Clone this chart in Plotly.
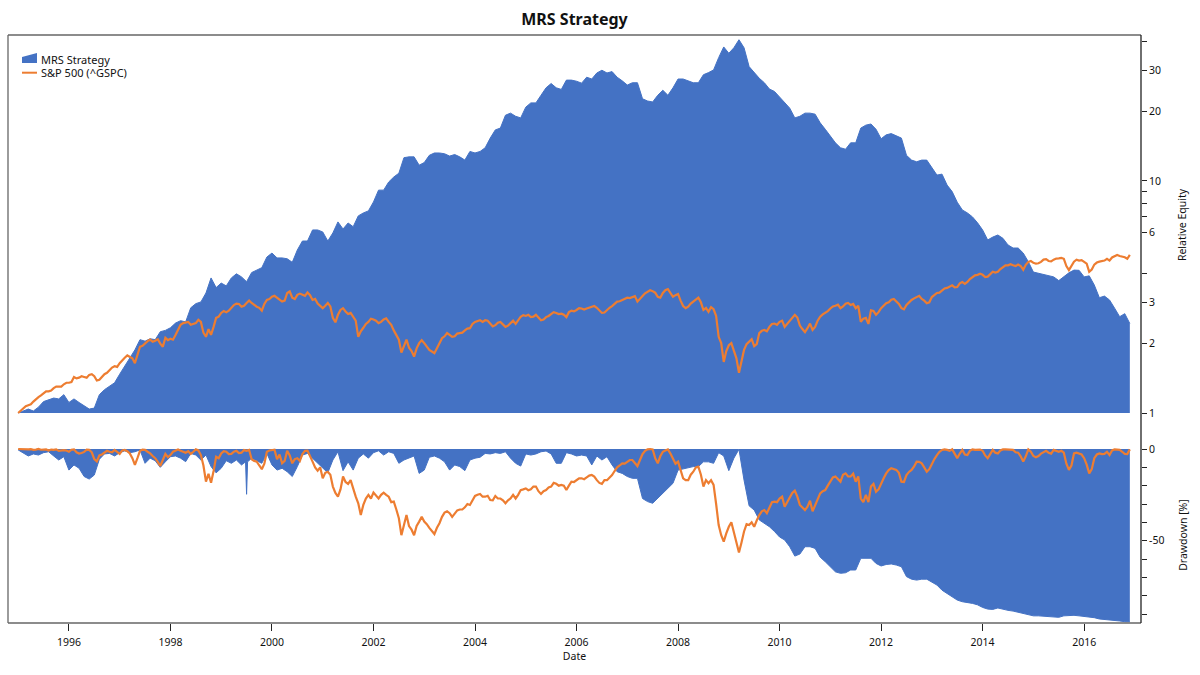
import numpy as np
import plotly.graph_objects as go

dates = np.round(np.arange(1995.0, 2016.95, 0.1), 1)
# the index lines get a second reading halfway between those dates
sp500_dates = np.round(np.arange(1995.0, 2016.925, 0.05), 2)

strategy_equity = [
    1.00, 1.02, 1.04, 1.02, 1.06, 1.12, 1.14, 1.16, 1.15, 1.20,
    1.11, 1.15, 1.11, 1.07, 1.04, 1.05, 1.20, 1.26, 1.30, 1.35,
    1.47, 1.60, 1.73, 1.87, 2.07, 2.04, 2.09, 2.07, 2.24, 2.27,
    2.33, 2.44, 2.50, 2.47, 2.84, 2.96, 3.01, 3.29, 3.82, 3.47,
    3.63, 3.53, 3.82, 3.98, 3.86, 3.68, 4.03, 4.12, 4.23, 4.70,
    4.89, 4.66, 4.66, 4.62, 4.46, 5.04, 5.51, 5.51, 6.15, 6.15,
    6.03, 5.51, 5.97, 6.66, 6.21, 6.59, 6.35, 7.07, 7.28, 7.43,
    8.12, 9.13, 9.13, 9.90, 10.4, 10.8, 12.6, 12.7, 12.7, 11.7,
    12.0, 12.9, 13.2, 13.2, 13.1, 12.8, 13.0, 12.7, 12.3, 13.4,
    13.2, 13.4, 13.9, 15.3, 16.6, 16.9, 19.2, 19.6, 19.0, 18.7,
    20.8, 21.7, 21.7, 23.4, 25.2, 26.3, 25.2, 24.8, 27.2, 27.2,
    26.9, 26.4, 28.0, 27.5, 29.2, 30.0, 29.2, 29.6, 28.0, 27.0,
    25.9, 26.5, 26.5, 22.6, 22.1, 21.9, 23.4, 24.6, 23.4, 25.2,
    27.5, 27.5, 27.0, 26.5, 26.5, 28.7, 29.3, 30.1, 34.0, 37.8,
    35.5, 37.5, 40.6, 37.5, 31.1, 29.3, 27.7, 26.5, 24.9, 24.3,
    23.0, 21.7, 20.6, 18.7, 19.0, 19.6, 19.6, 19.4, 17.8, 16.7,
    15.6, 14.6, 13.9, 13.7, 14.6, 14.6, 16.9, 17.4, 17.6, 16.7,
    15.2, 15.8, 16.0, 15.7, 15.3, 12.9, 12.3, 12.1, 12.3, 12.3,
    11.4, 10.6, 10.7, 9.60, 9.00, 8.10, 7.50, 7.28, 7.00, 6.60,
    6.15, 5.57, 5.73, 5.85, 5.66, 5.30, 5.14, 5.14, 4.89, 4.49,
    4.05, 4.00, 3.96, 3.93, 3.86, 3.72, 3.86, 4.02, 4.13, 4.12,
    3.86, 3.90, 3.56, 3.14, 3.19, 3.07, 2.83, 2.60, 2.68, 2.43,
]

sp500_equity = [
    1.00, 1.05, 1.08, 1.12, 1.17, 1.22, 1.24, 1.28, 1.30, 1.33,
    1.35, 1.43, 1.42, 1.43, 1.46, 1.44, 1.39, 1.47, 1.53, 1.59,
    1.64, 1.73, 1.75, 1.64, 1.93, 2.00, 2.07, 2.05, 1.99, 2.11,
    2.09, 2.17, 2.40, 2.45, 2.40, 2.44, 2.47, 2.13, 2.17, 2.57,
    2.70, 2.72, 2.83, 2.96, 2.87, 2.98, 2.98, 2.87, 2.76, 3.07,
    3.17, 3.14, 3.02, 3.29, 3.14, 3.23, 3.23, 3.31, 3.07, 2.96,
    2.83, 2.98, 2.57, 2.65, 2.83, 2.67, 2.60, 2.13, 2.33, 2.47,
    2.53, 2.44, 2.53, 2.47, 2.27, 2.07, 1.93, 1.91, 1.75, 2.00,
    2.00, 1.87, 1.81, 2.00, 2.14, 2.17, 2.14, 2.21, 2.27, 2.32,
    2.47, 2.51, 2.51, 2.42, 2.39, 2.47, 2.35, 2.45, 2.42, 2.60,
    2.62, 2.59, 2.65, 2.51, 2.59, 2.68, 2.70, 2.68, 2.59, 2.76,
    2.78, 2.82, 2.82, 2.87, 2.84, 2.70, 2.78, 2.89, 3.02, 3.07,
    3.14, 3.17, 3.02, 3.19, 3.33, 3.35, 3.17, 3.29, 3.42, 3.17,
    3.26, 2.89, 2.87, 3.02, 3.14, 2.78, 2.73, 2.80, 2.13, 1.66,
    1.96, 1.87, 1.49, 1.87, 2.03, 1.94, 2.21, 2.28, 2.35, 2.43,
    2.47, 2.35, 2.51, 2.65, 2.38, 2.23, 2.43, 2.35, 2.60, 2.70,
    2.82, 2.90, 2.83, 2.96, 2.92, 2.83, 2.47, 2.57, 2.77, 2.65,
    2.83, 2.97, 3.08, 3.03, 2.83, 2.92, 3.07, 3.17, 3.10, 2.97,
    3.16, 3.29, 3.37, 3.46, 3.55, 3.49, 3.67, 3.67, 3.85, 3.94,
    3.94, 3.87, 4.06, 4.06, 4.25, 4.33, 4.33, 4.36, 4.14, 4.48,
    4.44, 4.42, 4.58, 4.52, 4.58, 4.64, 4.62, 4.13, 4.49, 4.54,
    4.49, 4.06, 4.36, 4.49, 4.54, 4.54, 4.75, 4.75, 4.69, 4.80,
]

sp500_equity_between = [
    1.02, 1.07, 1.09, 1.15, 1.19, 1.24, 1.25, 1.30, 1.30, 1.35,
    1.36, 1.41, 1.44, 1.42, 1.47, 1.38, 1.43, 1.49, 1.57, 1.58,
    1.69, 1.77, 1.72, 1.79, 1.95, 2.04, 2.03, 2.08, 1.93, 2.06,
    2.07, 2.30, 2.44, 2.47, 2.43, 2.52, 2.22, 2.30, 2.35, 2.60,
    2.75, 2.76, 2.92, 2.95, 2.90, 3.05, 2.92, 2.84, 2.95, 3.10,
    3.20, 3.10, 3.05, 3.34, 3.10, 3.27, 3.20, 3.22, 3.10, 2.88,
    2.90, 2.88, 2.46, 2.78, 2.74, 2.70, 2.50, 2.25, 2.42, 2.55,
    2.50, 2.47, 2.56, 2.40, 2.18, 1.82, 2.07, 1.85, 1.90, 2.06,
    1.94, 1.84, 1.90, 2.10, 2.21, 2.13, 2.20, 2.22, 2.31, 2.42,
    2.50, 2.47, 2.50, 2.36, 2.45, 2.42, 2.38, 2.50, 2.50, 2.64,
    2.65, 2.60, 2.58, 2.53, 2.62, 2.72, 2.67, 2.65, 2.72, 2.74,
    2.83, 2.79, 2.85, 2.89, 2.76, 2.71, 2.84, 2.96, 3.03, 3.12,
    3.13, 3.19, 3.12, 3.28, 3.38, 3.30, 3.14, 3.38, 3.30, 3.22,
    3.05, 2.83, 2.96, 3.10, 3.00, 2.84, 2.86, 2.62, 2.00, 1.85,
    2.00, 1.72, 1.70, 1.98, 2.08, 1.98, 2.26, 2.25, 2.42, 2.40,
    2.50, 2.42, 2.58, 2.58, 2.30, 2.32, 2.28, 2.50, 2.66, 2.75,
    2.88, 2.93, 2.88, 2.98, 2.95, 2.90, 2.55, 2.42, 2.75, 2.72,
    2.90, 3.00, 3.10, 2.95, 2.80, 3.00, 3.12, 3.20, 3.05, 3.00,
    3.22, 3.30, 3.44, 3.50, 3.48, 3.62, 3.60, 3.78, 3.92, 3.98,
    3.85, 3.98, 4.03, 4.17, 4.33, 4.38, 4.30, 4.30, 4.35, 4.52,
    4.40, 4.48, 4.60, 4.50, 4.63, 4.66, 4.30, 4.30, 4.58, 4.56,
    4.40, 4.15, 4.45, 4.50, 4.62, 4.68, 4.80, 4.72, 4.62,
]

strategy_drawdown = [
    -0.5, -2.0, -3.8, -2.7, -3.3, -2.0, -1.5, -3.8, -6.0, -4.2,
    -11.5, -8.7, -10.5, -15.0, -16.4, -14.2, -5.6, -2.7, -2.4, -3.8,
    -2.0, -1.0, -2.0, -1.5, -0.5, -7.8, -5.0, -6.4, -10.0, -7.0,
    -4.2, -3.8, -5.0, -6.9, -2.4, -3.3, -6.0, -3.3, -9.6, -13.0,
    -10.5, -6.4, -7.8, -6.0, -8.7, -24.7, -5.0, -6.4, -7.8, -2.4,
    -8.7, -11.5, -10.5, -12.4, -15.0, -9.6, -3.3, -2.4, -5.0, -7.8,
    -10.5, -13.0, -6.0, -1.5, -11.8, -7.0, -11.5, -5.0, -2.7, -5.0,
    -2.0, -1.0, -3.3, -1.5, -2.4, -7.8, -6.0, -5.0, -3.8, -13.3,
    -11.5, -4.5, -3.8, -5.0, -7.0, -11.5, -8.7, -9.6, -11.8, -6.0,
    -5.0, -4.5, -2.4, -2.7, -2.0, -2.4, -1.5, -5.0, -7.8, -9.3,
    -2.7, -3.3, -2.7, -1.5, -1.1, -2.7, -7.8, -7.8, -2.0, -2.7,
    -3.8, -3.3, -3.8, -8.7, -3.8, -6.0, -4.2, -8.7, -12.4, -13.3,
    -15.0, -16.0, -16.0, -27.0, -28.7, -29.6, -27.0, -24.2, -21.5, -18.7,
    -11.5, -11.0, -10.5, -9.6, -9.6, -7.0, -7.0, -7.8, -2.0, -3.8,
    -11.8, -5.0, -0.2, -17.0, -31.0, -33.3, -38.7, -40.5, -42.4, -45.0,
    -48.0, -49.6, -53.3, -58.4, -57.3, -53.3, -53.3, -54.2, -59.0, -61.5,
    -64.5, -67.0, -67.8, -67.5, -66.0, -66.0, -59.6, -59.6, -59.6, -62.4,
    -63.8, -63.0, -62.7, -63.3, -64.2, -69.6, -71.0, -71.5, -71.0, -71.0,
    -72.4, -74.2, -77.0, -78.7, -80.5, -82.4, -83.3, -83.6, -84.2, -85.0,
    -86.4, -87.3, -87.5, -86.7, -87.5, -88.0, -88.4, -89.0, -89.6, -90.5,
    -91.0, -91.0, -91.3, -91.5, -91.6, -91.8, -91.0, -90.7, -90.7, -91.0,
    -91.3, -91.6, -92.0, -92.7, -92.9, -93.0, -93.3, -93.8, -94.2, -94.2,
]

sp500_drawdown = [
    0.0, -0.3, -0.2, -0.5, 0.0, -0.3, -0.8, -0.5, -1.0, -0.6,
    -1.5, -0.2, -2.5, -1.6, -0.5, -5.5, -3.5, -2.0, -1.5, -0.5,
    -2.7, -0.5, -2.4, -8.7, -1.0, -0.5, -2.4, -5.0, -9.3, -2.7,
    -3.3, -0.9, -0.9, -2.0, -2.7, -0.2, -3.3, -17.8, -18.4, -4.2,
    -2.4, -1.5, -2.7, -1.0, -2.0, -1.0, -5.6, -6.9, -11.0, -1.5,
    -0.5, -5.6, -7.8, -1.0, -7.8, -5.0, -2.7, -0.9, -6.9, -11.8,
    -16.0, -12.4, -20.5, -26.0, -15.0, -19.0, -22.0, -29.6, -30.5, -25.0,
    -23.8, -27.0, -23.8, -26.0, -28.7, -37.8, -41.5, -42.0, -47.0, -39.6,
    -39.6, -43.0, -46.4, -40.5, -34.7, -35.0, -35.5, -33.0, -31.8, -30.5,
    -25.6, -24.5, -26.0, -27.8, -25.6, -27.0, -29.6, -27.0, -27.0, -22.4,
    -21.5, -22.0, -20.5, -24.5, -22.4, -20.5, -19.0, -19.6, -22.4, -17.8,
    -17.0, -16.0, -15.5, -14.2, -17.0, -19.0, -17.0, -14.2, -10.0, -7.8,
    -6.9, -6.0, -9.3, -2.7, -0.2, -0.2, -7.8, -1.5, -0.2, -5.0,
    -6.9, -16.0, -17.0, -12.4, -9.6, -20.5, -18.7, -19.6, -41.5, -50.5,
    -42.4, -46.0, -56.5, -45.0, -41.5, -42.4, -36.0, -33.3, -31.5, -28.7,
    -27.0, -31.5, -26.0, -22.7, -30.5, -33.3, -28.2, -30.5, -24.2, -22.4,
    -17.8, -15.0, -17.8, -13.3, -15.0, -17.8, -27.0, -25.0, -20.5, -23.3,
    -18.7, -13.3, -10.5, -11.4, -17.8, -14.2, -11.4, -6.9, -7.8, -12.4,
    -7.8, -3.3, -0.5, -0.5, -0.2, -5.0, -0.5, -3.3, -0.2, -0.2,
    -1.0, -5.0, -0.5, -2.4, -0.2, -0.2, -0.5, -2.0, -6.9, -0.2,
    -3.8, -3.8, -1.5, -2.0, -0.5, -1.5, -2.0, -11.4, -2.4, -2.7,
    -5.0, -13.3, -5.0, -2.4, -2.7, -3.3, -0.2, -0.5, -2.7, -0.2,
]

sp500_drawdown_between = [
    -0.1, -0.4, -0.1, -0.3, -0.4, -0.2, -0.3, -0.2, -0.6, -0.8,
    -0.4, -1.8, -2.2, -0.4, -1.8, -6.8, -3.0, -1.0, -1.8, -1.5,
    -0.8, -1.2, -5.0, -5.0, -0.4, -1.5, -3.8, -7.0, -6.0, -4.5,
    -1.5, -0.3, -1.5, -1.2, -1.5, -0.8, -9.0, -13.5, -12.0, -5.0,
    -1.2, -2.8, -1.5, -2.2, -0.6, -0.5, -6.5, -9.0, -8.0, -0.8,
    -0.4, -3.0, -6.5, -3.5, -5.5, -6.5, -1.0, -3.5, -10.0, -10.0,
    -13.0, -14.0, -24.0, -22.0, -18.0, -17.0, -26.0, -36.0, -27.0, -27.0,
    -25.5, -25.0, -25.0, -29.0, -33.0, -47.0, -36.0, -44.0, -42.0, -37.0,
    -41.0, -45.0, -43.0, -37.0, -34.0, -37.0, -33.5, -33.0, -30.0, -28.0,
    -25.0, -26.0, -25.5, -28.0, -27.0, -28.0, -28.0, -25.0, -25.0, -22.0,
    -22.5, -20.5, -23.0, -23.0, -21.0, -18.5, -20.0, -20.0, -20.0, -18.0,
    -16.0, -16.5, -14.5, -15.0, -18.5, -17.0, -15.5, -12.0, -9.0, -8.0,
    -6.0, -8.0, -6.0, -1.0, 0.0, -5.0, -4.0, -0.8, -2.5, -8.0,
    -12.0, -17.0, -14.0, -10.0, -14.0, -17.0, -17.0, -30.0, -47.0, -46.0,
    -40.0, -52.0, -51.0, -41.0, -40.0, -39.0, -34.0, -35.0, -29.0, -29.0,
    -26.0, -29.0, -24.0, -26.0, -32.0, -31.5, -34.0, -27.0, -23.0, -20.0,
    -15.5, -16.5, -14.0, -15.0, -13.5, -15.0, -29.0, -29.0, -19.0, -22.0,
    -16.0, -11.5, -11.0, -13.0, -18.0, -12.5, -9.5, -7.0, -10.0, -11.0,
    -5.5, -1.5, -0.2, -1.0, -3.0, -2.5, -3.0, -1.0, -0.5, -0.3,
    -3.5, -2.5, -2.0, -0.8, -0.2, -0.3, -1.8, -4.0, -4.0, -1.5,
    -4.5, -2.5, -1.0, -2.5, -0.8, -1.0, -8.0, -9.0, -2.0, -3.0,
    -8.5, -11.0, -3.0, -2.8, -1.5, -0.8, -0.3, -1.5, -2.8,
]

# the one-day dip in mid 1999 needs its own shoulders or it draws far too wide
spike_dates = [1999.48, 1999.52]
spike_drawdown = [-7.0, -7.0]

year_ticks = list(range(1996, 2017, 2))
equity_ticks = [1, 2, 3, 4, 6, 7, 8, 9, 10, 20, 30, 40]
equity_labels = ["1", "2", "3", "", "6", "", "", "", "10", "20", "30", ""]
drawdown_ticks = [0, -10, -20, -30, -40, -50, -60, -70, -80, -90]
drawdown_labels = ["0", "", "", "", "", "-50", "", "", "", ""]

BLUE = "#4472C4"
ORANGE = "#ED7D31"
FONT = "Noto Sans"

# plot frame in window pixels
LEFT, RIGHT, TOP, BOTTOM = 8, 1141, 35, 623


def px(x):
    return (x - LEFT) / (RIGHT - LEFT)


def py(y):
    return (BOTTOM - y) / (BOTTOM - TOP)


def interleave(samples, between):
    merged = np.empty(len(samples) + len(between))
    merged[::2] = samples
    merged[1::2] = between
    return merged


dd_x = np.concatenate([dates, spike_dates])
dd_y = np.concatenate([strategy_drawdown, spike_drawdown])
order = np.argsort(dd_x)

fig = go.Figure()

# baseline at 1 so the log panel fills down to it and not to the axis bottom
fig.add_trace(go.Scatter(x=[dates[0], dates[-1]], y=[1, 1], mode="lines",
                         line=dict(width=0), hoverinfo="skip", xaxis="x", yaxis="y"))
fig.add_trace(go.Scatter(x=dates, y=strategy_equity, mode="lines", name="MRS Strategy",
                         fill="tonexty", fillcolor=BLUE, line=dict(color=BLUE, width=1),
                         xaxis="x", yaxis="y"))
fig.add_trace(go.Scatter(x=sp500_dates, y=interleave(sp500_equity, sp500_equity_between),
                         mode="lines", name="S&P 500 (^GSPC)",
                         line=dict(color=ORANGE, width=2.2), xaxis="x", yaxis="y"))
fig.add_trace(go.Scatter(x=dd_x[order], y=dd_y[order], mode="lines", name="MRS Strategy",
                         fill="tozeroy", fillcolor=BLUE, line=dict(color=BLUE, width=1),
                         xaxis="x2", yaxis="y2"))
fig.add_trace(go.Scatter(x=sp500_dates, y=interleave(sp500_drawdown, sp500_drawdown_between),
                         mode="lines", name="S&P 500 (^GSPC)",
                         line=dict(color=ORANGE, width=2.2), xaxis="x2", yaxis="y2"))

x_range = [1994.8, 2017.12]
tick_font = dict(family=FONT, size=10.5, color="#111111")

fig.update_layout(
    width=1200, height=675, showlegend=False,
    paper_bgcolor="white", plot_bgcolor="white",
    margin=dict(l=LEFT, r=1200 - RIGHT, t=TOP, b=675 - BOTTOM, autoexpand=False),
    font=dict(family=FONT, size=10.5, color="#111111"),
    title=dict(text="<b>MRS Strategy</b>", x=0.5, xanchor="center", xref="paper",
               y=(675 - 19) / 675, yanchor="middle",
               font=dict(family=FONT, size=16, color="#111111")),
    xaxis=dict(domain=[0, 1], range=x_range, anchor="y", showgrid=False, zeroline=False,
               showticklabels=False, ticks=""),
    yaxis=dict(domain=[py(415), 1], type="log", range=[-0.0086, 1.629], side="right",
               showgrid=False, zeroline=False, anchor="x",
               tickmode="array", tickvals=equity_ticks, ticktext=equity_labels,
               ticks="outside", ticklen=5, tickcolor="#222222", tickfont=tick_font,
               title=dict(text="Relative Equity", standoff=18, font=dict(family=FONT, size=10.5))),
    xaxis2=dict(domain=[0, 1], range=x_range, anchor="y2", showgrid=False, zeroline=False,
                tickmode="array", tickvals=year_ticks, ticks="outside", ticklen=7,
                ticklabelstandoff=2, tickcolor="#222222", tickfont=tick_font,
                title=dict(text="Date", standoff=4, font=dict(family=FONT, size=10.5))),
    yaxis2=dict(domain=[0, py(447)], range=[-94.9, 1.09], side="right",
                showgrid=False, zeroline=False, anchor="x2",
                tickmode="array", tickvals=drawdown_ticks, ticktext=drawdown_labels,
                ticks="outside", ticklen=5, tickcolor="#222222", tickfont=tick_font,
                title=dict(text="Drawdown [%]", standoff=16, font=dict(family=FONT, size=10.5))),
)

# frame: grey on three sides, dark on the value axis side
for x0, y0, x1, y1, color in [
    (LEFT, TOP, LEFT, BOTTOM, "#666666"),
    (LEFT, TOP, RIGHT, TOP, "#666666"),
    (LEFT, BOTTOM, RIGHT, BOTTOM, "#666666"),
    (RIGHT, TOP, RIGHT, BOTTOM, "#222222"),
]:
    fig.add_shape(type="line", xref="paper", yref="paper", layer="above",
                  x0=px(x0), y0=py(y0), x1=px(x1), y1=py(y1),
                  line=dict(color=color, width=1.3))

# legend by hand: plotly has no slanted area swatch and forces a 30px key
fig.add_shape(type="path", xref="paper", yref="paper", line=dict(width=0), fillcolor=BLUE,
              path=f"M {px(22)} {py(63)} L {px(22)} {py(57)} L {px(37)} {py(53)} L {px(37)} {py(63)} Z")
fig.add_shape(type="line", xref="paper", yref="paper", x0=px(22), x1=px(37), y0=py(72.7), y1=py(72.7),
              line=dict(color=ORANGE, width=2))
for label, y in [("MRS Strategy", 59), ("S&P 500 (^GSPC)", 73)]:
    fig.add_annotation(text=label, xref="paper", yref="paper", x=px(41), y=py(y),
                       xanchor="left", yanchor="middle", showarrow=False, xshift=-2,
                       font=dict(family=FONT, size=11, color="#111111"))

# the browser's default 8px body margin would push the fixed-size figure off the window
fig.write_html("out.html", config={"displayModeBar": False},
               post_script="document.body.style.margin = '0';")
